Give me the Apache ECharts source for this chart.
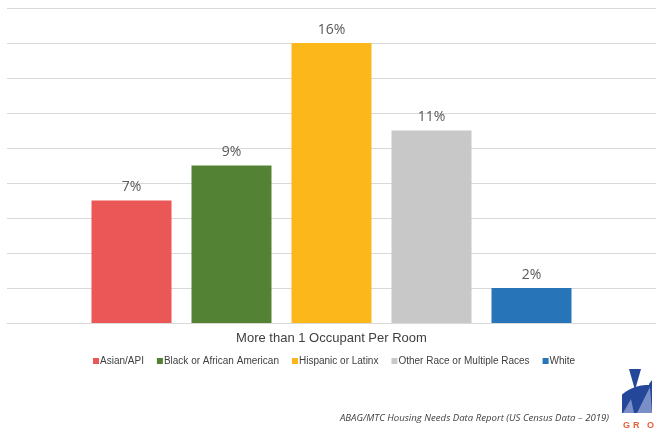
<!DOCTYPE html>
<html>
<head>
<meta charset="utf-8">
<script src="https://cdn.jsdelivr.net/npm/echarts@6/dist/echarts.min.js"></script>
<style>
  html, body { margin: 0; padding: 0; background: #fff; }
  #chart { width: 656px; height: 433px; }
</style>
</head>
<body>
<div id="chart"></div>
<script>
const categories = ["More than 1 Occupant Per Room"];
const seriesNames = ["Asian/API", "Black or African American", "Hispanic or Latinx", "Other Race or Multiple Races", "White"];
const seriesValues = [7, 9, 16, 11, 2];
const seriesColors = ["#EB5757", "#548235", "#FCB81B", "#C8C8C9", "#2874B8"];
const yTicks = { min: 0, max: 18, interval: 2 };
const sourceNote = "ABAG/MTC Housing Needs Data Report (US Census Data \u2013 2019)";

const chart = echarts.init(document.getElementById('chart'), null, { renderer: 'canvas' });

const series = seriesNames.map((name, i) => ({
  name: name,
  type: 'bar',
  data: [seriesValues[i]],
  barWidth: 80,
  barGap: '25%',
  itemStyle: { color: seriesColors[i] },
  label: {
    show: true,
    position: 'top',
    distance: 6,
    formatter: '{c}%',
    fontFamily: 'Open Sans',
    fontSize: 14,
    color: '#595959'
  }
}));

// logo dome outline (decorative)
const domePts = [];
for (let x = 622; x <= 652; x += 1) {
  const dx = x - 648;
  domePts.push([x, 425 - Math.sqrt(1600 - dx * dx)]);
}
domePts.push([652, 413], [622, 413]);

const logoText = (t, x) => ({
  type: 'text', left: x, top: 421,
  style: { text: t, fontFamily: 'Liberation Sans', fontSize: 9, fontWeight: 'bold', fill: '#E8603C' }
});

chart.setOption({
  animation: false,
  backgroundColor: '#ffffff',
  grid: { left: 7, right: 0, top: 8, bottom: 110, containLabel: false },
  xAxis: {
    type: 'category',
    data: categories,
    axisLine: { show: true, lineStyle: { color: '#D9D9D9', width: 1 } },
    axisTick: { show: false },
    axisLabel: { margin: 9, fontFamily: 'Liberation Sans', fontSize: 13, color: '#404040' }
  },
  yAxis: {
    type: 'value',
    min: yTicks.min, max: yTicks.max, interval: yTicks.interval,
    axisLabel: { show: false },
    axisLine: { show: false },
    axisTick: { show: false },
    splitLine: { lineStyle: { color: '#D9D9D9', width: 1 } }
  },
  legend: {
    data: seriesNames,
    left: 93, top: 356,
    padding: 0,
    icon: 'rect',
    itemWidth: 6, itemHeight: 6,
    itemGap: 13,
    textStyle: { fontFamily: 'Liberation Sans', fontSize: 10, color: '#404040', padding: [0, 0, 0, -4] }
  },
  graphic: [
    {
      type: 'text', right: 47, top: 413,
      style: { text: sourceNote, fontFamily: 'Open Sans', fontStyle: 'italic', fontSize: 9.6, fill: '#404040' }
    },
    // logo
    { type: 'polygon', shape: { points: domePts }, style: { fill: '#24479A' } },
    { type: 'polygon', shape: { points: [[629,369],[641,369],[635,390]] }, style: { fill: '#24479A' } },
    { type: 'polygon', shape: { points: [[649,384],[652,380],[652,392],[649,392]] }, style: { fill: '#24479A' } },
    { type: 'polygon', shape: { points: [[623,413],[634,413],[631,399]] }, style: { fill: '#7A8FC8' } },
    { type: 'polygon', shape: { points: [[637,413],[652,413],[650,387]] }, style: { fill: '#7A8FC8' } },
    logoText('G', 623), logoText('R', 633), logoText('O', 647)
  ],
  series: series
});
</script>
</body>
</html>
